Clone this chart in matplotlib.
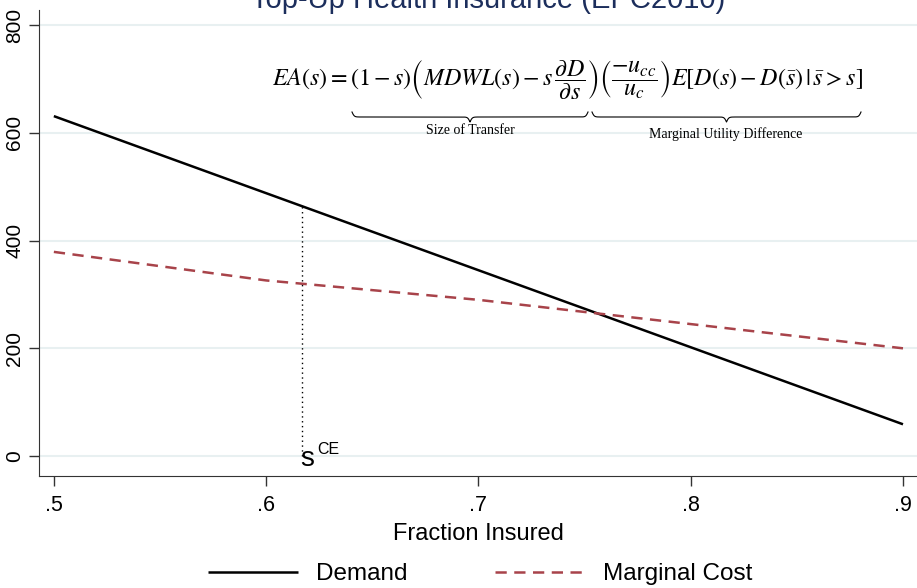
import numpy as np
import matplotlib
matplotlib.use("Agg")
import matplotlib.pyplot as plt
from matplotlib.lines import Line2D

# values
frac = [0.5, 0.6, 0.7, 0.8, 0.9]
demand = [631, 488, 345, 202, 59]
marg_cost = [379, 326, 290, 245, 200]
s_ce = 0.617
xtick_vals = [0.5, 0.6, 0.7, 0.8, 0.9]
xtick_labels = [".5", ".6", ".7", ".8", ".9"]
ytick_vals = [0, 200, 400, 600, 800]

W, H = 917, 588
plt.rcParams['font.family'] = ['Liberation Sans', 'DejaVu Sans']
plt.rcParams['mathtext.fontset'] = 'stix'

fig = plt.figure(figsize=(W / 100, H / 100), dpi=100)
ax = fig.add_axes([39 / W, 1 - 476 / H, (W - 39) / W, (476 - 10) / H])

grid_c = '#e8f0f1'
for v in ytick_vals:
    ax.axhline(v, color=grid_c, lw=1.5, zorder=0)

ax.plot(frac, demand, color='black', lw=1.8, label='Demand', solid_capstyle='butt')
ax.plot(frac, marg_cost, color='#a8434a', lw=1.8, dashes=(4.5, 3), label='Marginal Cost')

d_at = np.interp(s_ce, frac, demand)
ax.plot([s_ce, s_ce], [0, d_at], color='black', lw=1, ls=(0, (1, 2.5)))
ax.text(s_ce - 0.001, -6, 's', fontsize=20, ha='left', va='center')
ax.text(s_ce + 0.0072, 13, 'CE', fontsize=11.5, ha='left', va='center')

ax.set_xlim(0.493, 0.9066)
ax.set_ylim(-37, 828)
ax.set_xticks(xtick_vals)
ax.set_xticklabels(xtick_labels)
ax.set_yticks(ytick_vals)
ax.set_yticklabels([str(v) for v in ytick_vals], rotation=90, va='center')
ax.tick_params(axis='both', length=7.2, width=1, color='#333333')
ax.tick_params(axis='x', labelsize=15.5, pad=6.5)
ax.tick_params(axis='y', labelsize=15, pad=3.5)
for side in ['top', 'right']:
    ax.spines[side].set_visible(False)
for side in ['left', 'bottom']:
    ax.spines[side].set_color('#333333')
ax.set_xlabel('Fraction Insured', fontsize=17, labelpad=5)

leg = fig.legend(loc='center', bbox_to_anchor=(480 / W, 1 - 574 / H), ncol=2, frameon=False,
                 fontsize=17.5, handlelength=3.7, columnspacing=3.6, handletextpad=0.75)

# title, cut off at the top edge as in the reference
fig.text(488 / W, 1 - 8 / H, 'Top-Up Health Insurance (EPC2010)', fontsize=21,
         color='#1c2e5c', ha='center', va='baseline')

# equation
eq = (r'$EA(s) = (1-s)\left(MDWL(s) - s\,\dfrac{\partial D}{\partial s}\right)'
      r'\left(\dfrac{-u_{cc}}{u_c}\right)E\left[D(s)-D(\bar{s})\,|\,\bar{s}>s\right]$')
fig.text(567 / W, 1 - 80 / H, eq, fontsize=17.3, ha='center', va='center')


def brace(x0, x1, ytop, h=10):
    w = x1 - x0
    n = 400
    xh = np.linspace(0, w / 2, n)
    beta = 0.9
    yh = 1 / (1 + np.exp(-beta * (xh - xh[0]))) + 1 / (1 + np.exp(-beta * (xh - xh[-1])))
    xs = np.concatenate([xh, xh + w / 2]) + x0
    ys = np.concatenate([yh, yh[::-1]])
    ys = ytop + (ys - 0.5) * h
    fig.add_artist(Line2D(xs / W, 1 - ys / H, color='black', lw=0.8, transform=fig.transFigure))


brace(352, 588, 112)
brace(592, 861, 112)
fig.text(470 / W, 1 - 131 / H, 'Size of Transfer', fontsize=10, family='Liberation Serif',
         ha='center', va='center')
fig.text(726 / W, 1 - 134 / H, 'Marginal Utility Difference', fontsize=10,
         family='Liberation Serif', ha='center', va='center')

fig.savefig('out.png', dpi=100)
